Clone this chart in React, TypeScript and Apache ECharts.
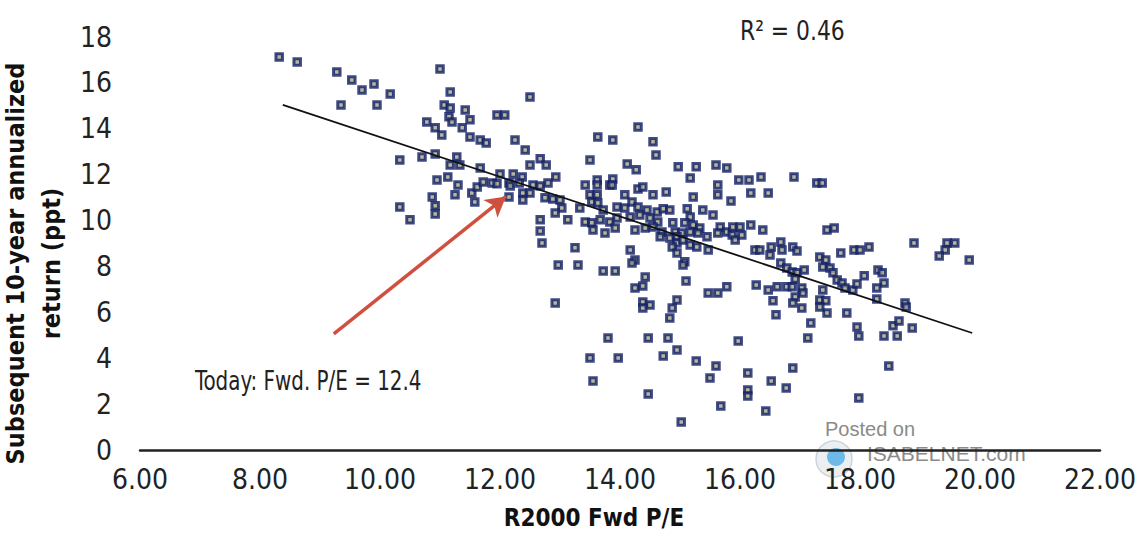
import React, { useEffect, useRef } from "react";
import * as echarts from "echarts";

// R2000 forward P/E (x) vs subsequent 10-year annualized return in ppt (y)
const pointsBelow12: number[][] = [
  [8.32, 17.13], [8.62, 16.91], [9.28, 16.48], [9.53, 16.13], [9.7, 15.69], [9.9, 15.95], [10.17, 15.52],
  [9.35, 15.04], [9.95, 15.04], [11.0, 16.6], [11.17, 15.6], [11.07, 15.04], [11.17, 14.91], [11.42, 14.82],
  [11.15, 14.52], [11.2, 14.3], [11.5, 14.39], [10.78, 14.3], [10.92, 14.04], [11.03, 13.73], [11.37, 14.04],
  [11.5, 13.64], [11.67, 13.51], [11.77, 13.38], [10.33, 12.64], [10.7, 12.77], [10.92, 12.9], [11.28, 12.77],
  [11.17, 12.42], [11.33, 12.42], [11.67, 12.29], [10.95, 11.77], [11.13, 11.9], [11.3, 11.55], [11.25, 11.12],
  [10.87, 11.03], [10.92, 10.64], [10.92, 10.29], [10.33, 10.59], [10.5, 10.03], [11.53, 11.2], [11.58, 10.81],
  [11.62, 11.46], [11.72, 11.68], [11.87, 11.64], [11.95, 11.6], [11.95, 14.6],
];

const points12to14: number[][] = [
  [12.15, 11.64], [12.15, 11.03], [12.08, 14.6], [12.5, 15.39], [12.25, 13.51], [12.42, 13.08], [12.67, 12.69],
  [12.5, 12.42], [12.77, 12.42], [12.0, 12.03], [12.22, 12.03], [12.37, 11.9], [12.93, 11.9], [12.17, 11.51],
  [12.32, 11.64], [12.55, 11.55], [12.67, 11.51], [12.8, 11.64], [12.38, 11.2], [12.5, 11.2], [12.38, 10.9],
  [12.75, 10.99], [12.88, 10.94], [13.0, 10.9], [13.03, 10.55], [12.92, 10.33], [12.67, 10.03], [13.13, 10.03],
  [12.67, 9.55], [12.7, 9.02], [13.25, 8.81], [12.97, 8.06], [13.3, 8.06], [12.92, 6.41], [13.63, 13.64],
  [13.88, 13.51], [13.5, 12.64], [13.33, 10.55], [13.42, 11.55], [13.62, 11.77], [13.62, 11.55], [13.5, 11.12],
  [13.62, 11.12], [13.53, 10.81], [13.63, 10.77], [13.72, 10.46], [13.42, 9.94], [13.53, 9.9], [13.55, 9.59],
  [13.67, 10.03], [13.75, 9.46], [13.83, 11.55], [13.83, 9.94], [13.72, 7.8], [13.92, 7.8], [13.8, 4.88],
  [13.5, 4.01], [13.97, 4.01], [13.55, 3.01], [13.88, 11.81], [13.87, 11.55], [13.95, 10.59], [13.95, 10.11],
  [13.92, 9.68],
];

const points14to16: number[][] = [
  [14.3, 14.08], [14.55, 13.43], [14.6, 12.86], [14.12, 12.47], [14.27, 12.21], [14.97, 12.34], [15.27, 12.34],
  [15.17, 11.86], [15.6, 12.42], [15.78, 12.29], [14.3, 11.38], [14.38, 11.46], [14.55, 11.12], [14.77, 11.25],
  [14.08, 11.12], [15.22, 11.03], [15.63, 11.55], [15.63, 11.12], [14.08, 10.55], [14.2, 10.81], [14.3, 10.59],
  [14.45, 10.46], [14.62, 10.37], [14.72, 10.51], [14.83, 10.46], [15.12, 10.51], [15.38, 10.46], [15.55, 10.24],
  [15.17, 10.16], [14.17, 10.16], [14.33, 10.24], [14.5, 10.11], [14.63, 9.94], [14.88, 9.9], [15.08, 9.9],
  [15.22, 9.81], [15.33, 9.68], [14.25, 9.59], [14.42, 9.68], [14.55, 9.72], [14.7, 9.5], [14.92, 9.5],
  [15.03, 9.46], [15.17, 9.5], [15.3, 9.46], [15.45, 9.29], [15.67, 9.72], [15.78, 9.5], [15.63, 9.46],
  [14.67, 9.29], [14.83, 9.24], [14.95, 9.29], [14.95, 9.02], [14.87, 8.85], [15.05, 9.15], [15.17, 8.94],
  [15.28, 8.85], [15.47, 8.72], [14.17, 8.72], [14.25, 8.28], [14.2, 8.15], [14.95, 8.59], [15.08, 8.2],
  [15.05, 8.06], [15.1, 7.37], [14.42, 7.54], [14.25, 7.06], [14.38, 7.15], [15.47, 6.84], [15.63, 6.84],
  [15.78, 7.11], [14.95, 6.54], [14.38, 6.45], [14.5, 6.32], [14.38, 6.19], [14.87, 6.19], [14.83, 5.75],
  [14.47, 4.88], [14.8, 4.88], [14.95, 4.36], [14.72, 4.1], [15.27, 3.88], [15.6, 3.66], [15.5, 3.14],
  [14.47, 2.44], [15.68, 1.92], [15.02, 1.22], [15.98, 11.77], [15.85, 10.85], [15.88, 9.72], [15.87, 9.37],
  [15.92, 9.15], [15.97, 4.75],
];

const pointsAbove16: number[][] = [
  [16.15, 11.77], [16.35, 11.9], [16.9, 11.9], [17.28, 11.64], [17.37, 11.64], [16.18, 11.2], [16.47, 11.2],
  [16.0, 9.72], [16.03, 9.37], [16.18, 9.81], [16.38, 9.59], [17.45, 9.59], [17.57, 9.68], [16.25, 8.72],
  [16.33, 8.72], [16.52, 8.85], [16.5, 8.5], [16.68, 9.07], [16.7, 8.72], [16.88, 8.85], [16.95, 8.67],
  [16.68, 8.15], [16.78, 7.93], [16.87, 7.76], [16.95, 7.72], [17.07, 7.85], [17.33, 8.41], [17.43, 8.28],
  [17.38, 7.98], [17.5, 7.93], [17.55, 7.72], [17.62, 7.41], [17.68, 8.59], [16.27, 7.19], [16.47, 6.97],
  [16.62, 7.11], [16.78, 7.11], [16.55, 6.5], [16.87, 7.11], [16.92, 7.45], [16.92, 6.67], [16.88, 6.41],
  [17.03, 7.06], [17.05, 6.84], [17.03, 6.19], [17.33, 6.54], [17.43, 6.5], [17.45, 5.97], [17.38, 6.97],
  [17.33, 6.23], [16.6, 5.89], [17.18, 5.54], [17.13, 4.88], [16.13, 3.36], [16.88, 3.57], [16.52, 3.01],
  [16.77, 2.7], [16.13, 2.62], [16.13, 2.35], [16.43, 1.7], [18.9, 9.02], [19.45, 9.02], [19.58, 9.02],
  [19.42, 8.72], [19.32, 8.46], [19.82, 8.28], [17.9, 8.72], [18.0, 8.72], [18.15, 8.85], [17.7, 7.28],
  [17.75, 7.06], [17.88, 6.97], [17.95, 7.24], [18.07, 7.59], [18.3, 7.85], [18.37, 7.72], [18.4, 7.28],
  [18.28, 7.06], [18.28, 6.58], [18.75, 6.41], [18.77, 6.23], [17.78, 5.97], [17.95, 5.36], [17.98, 4.97],
  [18.4, 4.97], [18.55, 5.41], [18.65, 5.62], [18.62, 4.97], [18.87, 5.32], [18.48, 3.66], [17.98, 2.27],
];

const trendLine: number[][] = [[8.38, 15.04], [19.87, 5.1]];
const todayArrow: number[][] = [[9.23, 5.06], [12.1, 11.05]];
const xTicks = { min: 6, max: 22, interval: 2 };
const yTicks = { min: 0, max: 18, interval: 2 };
const rSquared = "R² = 0.46";
const todayLabel = "Today: Fwd. P/E = 12.4";

const NARROW = "'Liberation Sans Narrow', 'DejaVu Sans Condensed', 'Noto Sans', sans-serif";
const WATERMARK_FONT = "'Liberation Sans', Arial, sans-serif";

export default function App() {
  const ref = useRef<HTMLDivElement>(null);
  useEffect(() => {
    if (!ref.current) return;
    const chart = echarts.init(ref.current, null, { renderer: "svg" });
    const allPoints = [...pointsBelow12, ...points12to14, ...points14to16, ...pointsAbove16];
    chart.setOption({
      animation: false,
      backgroundColor: "#ffffff",
      grid: {
        left: 140,
        right: 35,
        top: 37,
        bottom: 88,
        containLabel: false,
        outerBoundsMode: "none",
      },
      xAxis: {
        type: "value",
        min: xTicks.min,
        max: xTicks.max,
        interval: xTicks.interval,
        name: "R2000 Fwd P/E",
        nameLocation: "middle",
        nameGap: 56,
        nameTextStyle: {
          fontFamily: NARROW,
          fontWeight: "bold",
          fontSize: 24,
          color: "#111",
          padding: [0, 52, 0, 0],
        },
        axisLine: { show: true, lineStyle: { color: "#222", width: 2.5 } },
        axisTick: { show: false },
        splitLine: { show: false },
        axisLabel: {
          fontFamily: NARROW,
          fontSize: 28,
          color: "#222",
          margin: 15,
          formatter: (v: number) => v.toFixed(2),
        },
      },
      yAxis: {
        type: "value",
        min: yTicks.min,
        max: yTicks.max,
        interval: yTicks.interval,
        name: "Subsequent 10-year annualized\nreturn (ppt)",
        nameLocation: "middle",
        nameGap: 60,
        nameTextStyle: {
          fontFamily: NARROW,
          fontWeight: "bold",
          fontSize: 25,
          lineHeight: 36,
          color: "#111",
          padding: [0, 40, 0, 0],
        },
        axisLine: { show: false },
        axisTick: { show: false },
        splitLine: { show: false },
        axisLabel: { fontFamily: NARROW, fontSize: 28, color: "#222", margin: 28 },
      },
      series: [
        {
          type: "scatter",
          name: "Observations",
          data: allPoints,
          symbol: "rect",
          symbolSize: 6.5,
          itemStyle: { color: "#a8a484", borderColor: "#0f1f66", borderWidth: 3 },
          z: 3,
        },
        {
          type: "line",
          name: "Trend",
          data: trendLine,
          symbol: "none",
          lineStyle: { color: "#111", width: 1.8 },
          z: 4,
          markLine: {
            silent: true,
            symbol: ["none", "arrow"],
            symbolSize: [17, 20],
            label: { show: false },
            lineStyle: { color: "#d0503f", width: 3.5, type: "solid" },
            data: [[{ coord: todayArrow[0] }, { coord: todayArrow[1] }]],
          },
        },
      ],
      graphic: [
        {
          type: "text",
          x: 740,
          y: 31,
          scaleX: 0.9,
          style: {
            text: rSquared,
            fontFamily: NARROW,
            fontSize: 27,
            fill: "#222",
            textAlign: "left",
            textVerticalAlign: "middle",
          },
        },
        {
          type: "text",
          x: 195,
          y: 381,
          scaleX: 0.82,
          style: {
            text: todayLabel,
            fontFamily: NARROW,
            fontSize: 27,
            fill: "#222",
            textAlign: "left",
            textVerticalAlign: "middle",
          },
        },
        {
          type: "text",
          x: 825,
          y: 429,
          style: {
            text: "Posted on",
            fontFamily: WATERMARK_FONT,
            fontSize: 20,
            fill: "#8a8a8a",
            textAlign: "left",
            textVerticalAlign: "middle",
          },
        },
        {
          type: "circle",
          shape: { cx: 834, cy: 459, r: 18 },
          style: { fill: "#e8ecf0", stroke: "#c8ccd2", lineWidth: 1.5, opacity: 0.85 },
        },
        {
          type: "circle",
          shape: { cx: 836, cy: 457, r: 9 },
          style: { fill: "#5fb4e8", opacity: 0.9 },
        },
        {
          type: "text",
          x: 867,
          y: 453,
          style: {
            text: "ISABELNET.com",
            fontFamily: WATERMARK_FONT,
            fontSize: 21,
            fill: "#8a8a8a",
            textAlign: "left",
            textVerticalAlign: "middle",
          },
        },
      ],
    });
    return () => chart.dispose();
  }, []);
  return (
    <div
      ref={ref}
      style={{ position: "absolute", left: 0, top: 0, width: 1135, height: 538 }}
    />
  );
}
